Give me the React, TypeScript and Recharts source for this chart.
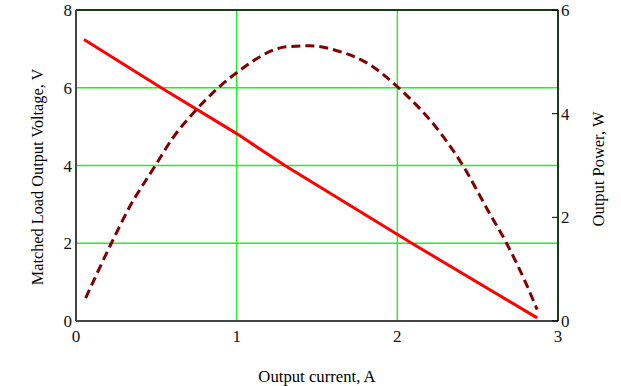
import { LineChart, Line, XAxis, YAxis, CartesianGrid, ReferenceLine, Label } from 'recharts'

// load voltage (left axis)
const voltageCurrent = [0.05, 0.53, 1.0, 1.3, 2.09, 2.87]
const voltageValues = [7.24, 6.0, 4.82, 4.0, 2.0, 0.08]

// output power (right axis)
const powerCurrent = [0.06, 0.22, 0.33, 0.49, 0.6, 0.75, 1.0, 1.31, 1.45, 1.64, 1.81, 2.0, 2.28, 2.4, 2.57, 2.68, 2.8, 2.87]
const powerValues = [0.44, 1.5, 2.18, 2.98, 3.52, 4.08, 4.79, 5.29, 5.31, 5.2, 4.98, 4.52, 3.58, 3.04, 2.1, 1.5, 0.73, 0.22]

const xTicks = [0, 1, 2, 3]
const leftTicks = [0, 2, 4, 6, 8]
const rightTicks = [0, 2, 4, 6]

const voltageData = voltageCurrent.map((i, k) => ({ i, v: voltageValues[k] }))
const powerData = powerCurrent.map((i, k) => ({ i, p: powerValues[k] }))

const FONT = '"Liberation Serif", "Times New Roman", serif'
const tickStyle = { fontSize: 17, fontFamily: FONT, fill: '#111' }

function RightTick(props: any) {
  const { x, y, payload } = props
  const axisX = x - 3
  return (
    <g>
      <line x1={axisX - 6} x2={axisX} y1={y} y2={y} stroke="#000" strokeWidth={1} />
      <text x={x} y={y} dy="0.355em" textAnchor="start" {...tickStyle}>
        {payload.value}
      </text>
    </g>
  )
}

export default function App() {
  return (
    <div style={{ position: 'absolute', left: 0, top: 0, width: 621, height: 386, background: '#fff' }}>
      <LineChart width={621} height={386} margin={{ top: 10, right: 0, bottom: 0, left: 0 }}>
        <CartesianGrid yAxisId="left" stroke="#22f022" strokeWidth={1.4} />
        <XAxis
          dataKey="i"
          type="number"
          domain={[0, 3]}
          ticks={xTicks}
          height={65}
          tickLine={false}
          tickSize={0}
          tickMargin={9}
          axisLine={{ stroke: '#444', strokeWidth: 2 }}
          tick={tickStyle}
        >
          <Label
            content={() => (
              <text x={317} y={382} textAnchor="middle" fontSize={16.7} fontFamily={FONT} fill="#000">
                Output current, A
              </text>
            )}
          />
        </XAxis>
        <YAxis
          yAxisId="left"
          orientation="left"
          width={76}
          domain={[0, 8]}
          ticks={leftTicks}
          tickLine={false}
          tickSize={0}
          tickMargin={4}
          axisLine={{ stroke: '#444', strokeWidth: 2 }}
          tick={tickStyle}
        >
          <Label
            content={() => (
              <text
                x={43}
                y={177}
                transform="rotate(-90 43 177)"
                textAnchor="middle"
                fontSize={16.3}
                fontFamily={FONT}
                fill="#000"
              >
                Matched Load Output Voltage, V
              </text>
            )}
          />
        </YAxis>
        <YAxis
          yAxisId="right"
          orientation="right"
          width={63}
          domain={[0, 6]}
          ticks={rightTicks}
          tickLine={false}
          tickSize={0}
          tickMargin={3}
          axisLine={{ stroke: '#000', strokeWidth: 1.5 }}
          tick={<RightTick />}
        >
          <Label
            content={() => (
              <text
                x={604}
                y={169}
                transform="rotate(-90 604 169)"
                textAnchor="middle"
                fontSize={16.5}
                fontFamily={FONT}
                fill="#000"
              >
                Output Power, W
              </text>
            )}
          />
        </YAxis>
        <ReferenceLine yAxisId="left" y={8} stroke="#000" strokeWidth={1.5} />
        <Line
          yAxisId="left"
          data={voltageData}
          dataKey="v"
          type="linear"
          stroke="#ff0000"
          strokeWidth={3}
          dot={false}
          isAnimationActive={false}
        />
        <Line
          yAxisId="right"
          data={powerData}
          dataKey="p"
          type="monotone"
          stroke="#800000"
          strokeWidth={3}
          strokeDasharray="9 5"
          dot={false}
          isAnimationActive={false}
        />
      </LineChart>
    </div>
  )
}
